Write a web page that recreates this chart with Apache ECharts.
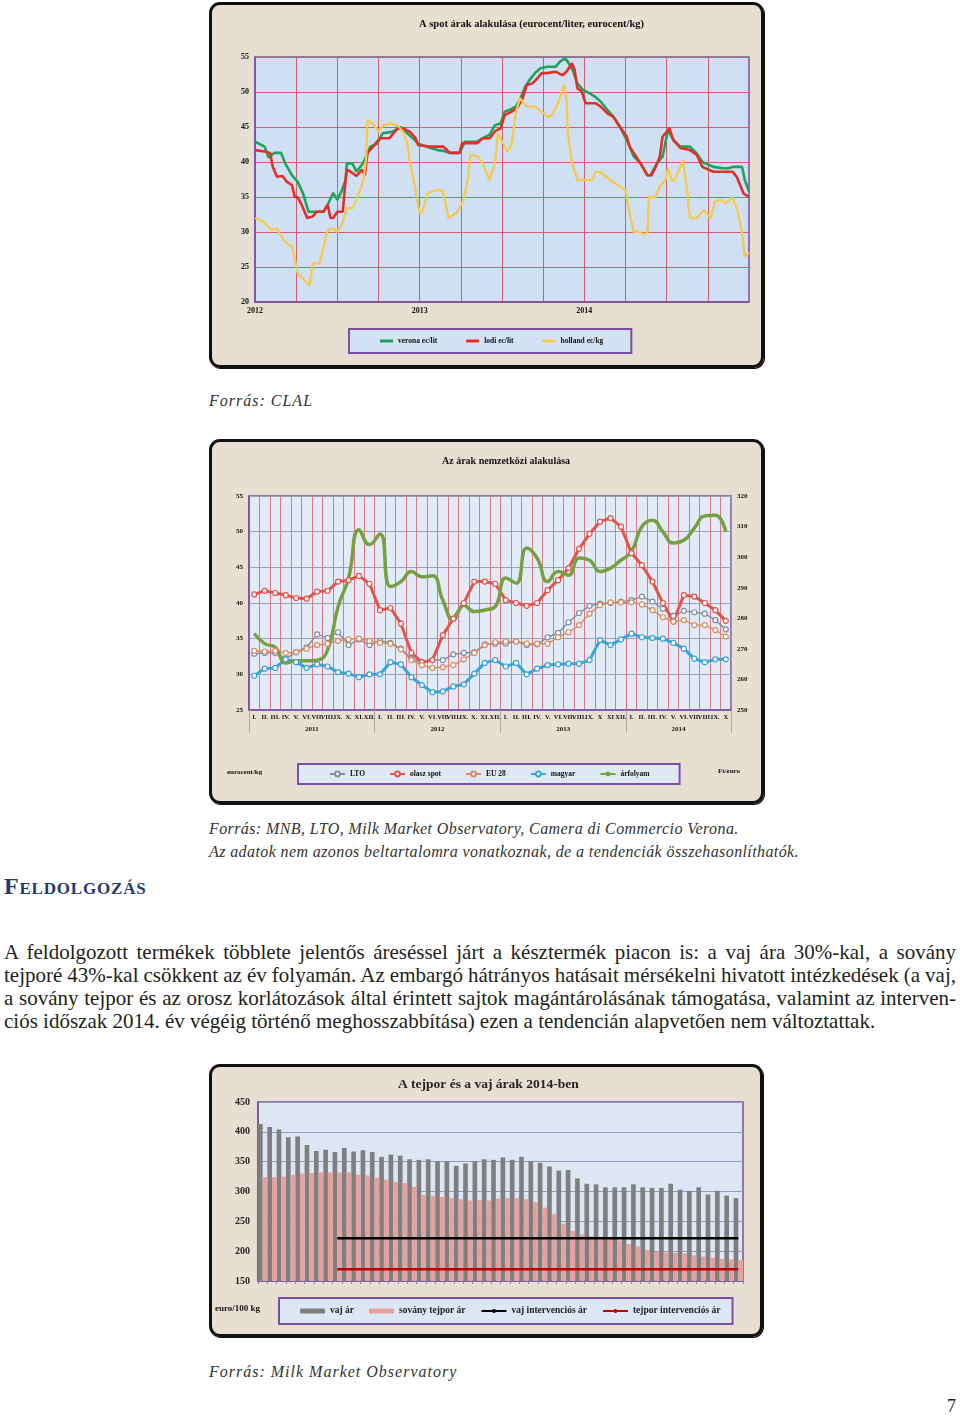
<!DOCTYPE html>
<html><head><meta charset="utf-8">
<script src="https://cdn.jsdelivr.net/npm/echarts@6/dist/echarts.min.js"></script>
<style>
body{margin:0;width:960px;height:1416px;background:#fff;position:relative;overflow:hidden;font-family:"Liberation Serif","DejaVu Serif",serif;color:#231f20}
.box{position:absolute;background:#e7e0d2;border-radius:11px}
.frame{position:absolute;border:3px solid #111;border-radius:11px;box-sizing:border-box;pointer-events:none;box-shadow:1px 1px 0 #111}
.src{position:absolute;left:209px;font-style:italic;font-size:16px;line-height:18px;color:#333;letter-spacing:0.4px;white-space:nowrap}
.head{position:absolute;left:4px;top:871px;font-size:24px;line-height:30px;font-weight:bold;font-variant:small-caps;color:#1f3c6e;letter-spacing:0.8px}
.para{position:absolute;left:4px;top:941px;width:952px;font-size:21px;line-height:23px}
.jl{text-align:justify;text-align-last:justify;word-spacing:-4px}
.pn{position:absolute;left:947px;top:1395px;font-size:18px;line-height:22px}
</style></head>
<body>
<div id="c1" class="box" style="left:209px;top:2px;width:555px;height:366px"></div>
<div class="frame" style="left:209px;top:2px;width:555px;height:366px"></div>
<div class="src" style="top:392px;letter-spacing:1px">Forrás: CLAL</div>

<div id="c2" class="box" style="left:209px;top:439px;width:555px;height:365px"></div>
<div class="frame" style="left:209px;top:439px;width:555px;height:365px"></div>
<div class="src" style="top:820px">Forrás: MNB, LTO, Milk Market Observatory, Camera di Commercio Verona.</div>
<div class="src" style="top:843px">Az adatok nem azonos beltartalomra vonatkoznak, de a tendenciák összehasonlíthatók.</div>
<div class="head">Feldolgozás</div>
<div class="para">
<div class="jl">A feldolgozott termékek többlete jelentős áreséssel járt a késztermék piacon is: a vaj ára 30%-kal, a sovány</div>
<div class="jl">tejporé 43%-kal csökkent az év folyamán. Az embargó hátrányos hatásait mérsékelni hivatott intézkedések (a vaj,</div>
<div class="jl">a sovány tejpor és az orosz korlátozások által érintett sajtok magántárolásának támogatása, valamint az interven-</div>
<div>ciós időszak 2014. év végéig történő meghosszabbítása) ezen a tendencián alapvetően nem változtattak.</div>
</div>

<div id="c3" class="box" style="left:209px;top:1064px;width:554px;height:273px"></div>
<div class="frame" style="left:209px;top:1064px;width:554px;height:273px"></div>
<div class="src" style="top:1363px;letter-spacing:1px">Forrás: Milk Market Observatory</div>
<div class="pn">7</div>

<script>
const SERIF = '"Liberation Serif","DejaVu Serif",serif';
const PURPLE = '#7b4ea3';

// ---------- Chart 1: spot prices (x = months since Jan 2012) ----------
const spotYearLabels = ['2012', '2013', '2014'];
const verona = [[0,42.9],[0.7,42.2],[1.0,40.6],[1.4,41.3],[1.9,41.3],[2.2,39.8],[2.7,38.1],[3.1,37.2],[3.5,35.5],[3.9,32.9],[4.5,32.9],[5.0,32.9],[5.3,33.9],[5.7,35.6],[6.0,34.6],[6.3,35.8],[6.6,37.4],[6.7,39.8],[7.1,39.8],[7.4,38.6],[7.9,39.9],[8.4,42.2],[8.9,42.6],[9.3,44.1],[10.0,44.3],[10.6,45.0],[11.1,44.1],[11.5,43.4],[11.9,42.6],[12.8,42.0],[13.3,41.7],[13.7,41.6],[14.2,41.3],[14.9,41.3],[15.3,42.9],[16.2,42.9],[16.6,43.4],[17.1,43.9],[17.5,45.3],[17.9,45.5],[18.2,47.2],[18.6,47.5],[19.0,47.9],[19.3,48.9],[19.7,50.8],[20.0,51.7],[20.4,52.7],[20.8,53.4],[21.3,53.6],[21.9,53.6],[22.2,54.3],[22.6,54.8],[22.8,54.3],[23.2,52.9],[23.5,51.2],[23.9,50.3],[24.4,49.8],[24.8,49.3],[25.2,48.6],[25.7,47.4],[26.1,46.5],[26.6,45.0],[27.1,43.1],[27.6,40.8],[28.1,39.8],[28.6,38.1],[28.8,38.1],[29.3,39.8],[29.7,40.8],[29.9,42.7],[30.1,44.6],[30.5,43.1],[31.0,42.2],[31.7,42.2],[32.2,41.2],[32.6,40.0],[33.4,39.3],[34.1,39.1],[34.5,39.1],[34.8,39.3],[35.5,39.3],[35.7,37.4],[36,35.8]];
const lodi = [[0,41.7],[0.7,41.5],[1.1,41.3],[1.3,39.3],[1.6,37.9],[2.0,38.0],[2.3,37.2],[2.7,36.7],[2.9,35.0],[3.1,35.0],[3.4,33.9],[3.8,32.0],[4.2,32.2],[4.5,32.9],[5.0,32.9],[5.3,33.9],[5.5,32.0],[5.7,32.0],[6.0,32.9],[6.4,32.9],[6.6,37.4],[6.7,38.9],[6.9,38.7],[7.4,38.0],[7.8,38.9],[8.0,38.1],[8.2,41.3],[8.6,42.2],[9.1,43.4],[9.8,43.4],[10.4,44.8],[10.8,44.8],[11.3,44.3],[11.7,43.4],[11.9,42.4],[12.8,42.2],[13.7,42.2],[14.0,41.7],[14.2,41.3],[14.9,41.3],[15.1,42.7],[16.2,42.7],[16.6,43.4],[17.1,43.4],[17.5,44.4],[17.9,44.8],[18.2,46.7],[18.7,47.2],[19.1,47.7],[19.5,49.1],[19.8,51.0],[20.2,51.2],[20.6,52.0],[20.9,52.7],[21.3,52.7],[21.9,52.9],[22.4,52.4],[22.7,52.9],[23.1,54.1],[23.3,53.1],[23.5,50.5],[23.8,50.1],[24.1,48.4],[24.8,48.4],[25.2,47.9],[25.7,46.9],[26.1,46.5],[26.6,45.0],[27.1,43.6],[27.3,42.2],[27.6,41.3],[28.1,39.8],[28.6,38.1],[28.9,38.1],[29.2,39.3],[29.5,40.8],[29.7,43.6],[30.2,44.8],[30.5,43.1],[31.0,42.0],[31.7,41.7],[32.2,41.0],[32.6,39.3],[33.4,38.6],[34.1,38.6],[34.8,38.6],[35.1,37.9],[35.4,36.5],[35.6,35.5],[36,35.0]];
const holland = [[0,32.0],[0.6,31.5],[1.2,30.3],[1.6,30.5],[2.0,29.1],[2.3,28.4],[2.7,27.9],[2.9,26.2],[3.1,24.1],[3.6,23.1],[4.0,22.4],[4.2,25.5],[4.7,25.5],[5.0,27.9],[5.3,30.3],[5.7,30.5],[6.0,30.0],[6.4,31.5],[6.7,33.4],[7.1,33.4],[7.4,34.6],[7.9,37.4],[8.1,40.5],[8.2,46.0],[8.6,45.5],[9.0,44.3],[9.3,45.2],[9.8,45.5],[10.4,45.2],[10.8,44.3],[11.1,42.6],[11.3,39.8],[11.7,36.0],[11.8,34.6],[12.0,32.7],[12.2,32.9],[12.6,35.6],[13.3,36.0],[13.7,35.8],[14.1,32.0],[14.7,32.7],[15.2,34.6],[15.5,37.4],[15.7,41.0],[16.2,40.8],[16.6,39.8],[17.1,37.4],[17.5,40.0],[17.7,44.1],[18.1,42.6],[18.4,41.5],[18.7,42.5],[19.0,47.0],[19.3,49.1],[19.8,47.9],[20.4,47.9],[20.9,47.2],[21.3,46.5],[21.6,46.6],[22.1,48.4],[22.5,51.0],[22.7,48.9],[22.8,44.1],[23.1,39.8],[23.5,37.4],[24.2,37.4],[24.6,37.4],[24.8,38.6],[25.2,38.6],[25.5,38.0],[25.9,37.4],[26.6,36.5],[27.0,36.0],[27.2,33.6],[27.6,30.0],[28.1,30.0],[28.3,29.6],[28.6,29.9],[28.7,35.0],[29.2,35.0],[29.5,36.5],[29.9,37.4],[30.1,39.1],[30.4,37.3],[30.6,37.5],[31.0,39.3],[31.2,40.3],[31.3,38.6],[31.5,36.0],[31.6,33.6],[31.7,32.0],[32.2,32.0],[32.7,33.1],[33.2,32.0],[33.5,34.3],[33.9,34.6],[34.3,34.1],[34.6,34.6],[34.8,35.0],[35.2,32.7],[35.5,29.8],[35.7,26.5],[36,27.0]];

// ---------- Chart 2: international prices (monthly, 2011-01 .. 2014-10) ----------
const monthLabels = ['I.','II.','III.','IV.','V.','VI.','VII.','VIII.','IX.','X.','XI.','XII.',
  'I.','II.','III.','IV.','V.','VI.','VII.','VIII.','IX.','X.','XI.','XII.',
  'I.','II.','III.','IV.','V.','VI.','VII.','VIII.','IX.','X','XI','XII.',
  'I.','II.','III.','IV.','V.','VI.','VII.','VIII.','IX.','X'];
const years = ['2011','2012','2013','2014'];
const monthsPerYear = [12,12,12,10];
const lto = [32.9,33.0,33.0,32.2,33.1,33.8,35.6,35.1,35.9,34.1,34.9,34.1,34.7,34.4,33.6,32.2,31.7,32.0,32.0,32.8,33.0,33.1,34.2,34.3,34.3,34.6,34.1,34.2,35.2,35.8,37.3,38.6,39.6,39.9,40.0,40.2,40.4,40.9,40.2,39.2,38.2,38.9,38.7,38.5,37.6,36.3];
const olasz = [41.2,41.7,41.4,41.1,40.7,40.6,41.6,41.7,43.0,43.2,43.8,42.7,39.0,39.3,37.1,33.0,31.7,32.0,35.5,37.8,40.0,43.0,43.0,42.7,40.4,40.0,39.6,40.0,41.8,43.2,44.9,47.6,49.7,51.4,51.9,50.7,47.0,45.3,43.0,40.0,37.4,41.1,40.9,40.0,39.0,37.5];
const eu28 = [33.3,33.2,33.3,33.0,33.1,33.6,34.1,34.3,34.7,34.9,35.0,34.7,34.4,34.3,33.5,32.0,31.3,30.9,31.0,31.3,32.1,33.0,34.1,34.5,34.6,34.6,34.3,34.3,34.3,35.2,35.9,36.9,38.5,39.7,40.1,40.1,40.1,39.8,39.0,38.0,37.4,37.6,36.9,36.9,36.2,35.3];
const magyar = [29.8,30.8,30.9,32.1,31.7,30.9,31.4,31.1,30.3,30.1,29.6,30.0,30.0,31.7,31.4,29.6,28.5,27.5,27.6,28.3,28.6,30.1,31.6,32.0,31.1,31.6,30.0,30.8,31.3,31.4,31.5,31.5,32.0,34.8,34.1,34.9,35.7,35.2,35.1,35.0,34.4,33.6,32.2,31.7,32.1,32.1];
const arfolyam = [275.0,271.7,270.5,265.4,266.1,266.1,266.3,269.6,283.8,293.2,309.0,304.1,307.6,290.4,292.0,295.3,293.6,293.9,285.9,279.4,284.3,282.2,282.7,283.8,293.2,291.5,303.0,299.7,292.0,295.3,294.1,299.7,299.0,295.3,296.4,299.0,301.8,310.0,312.1,308.3,304.6,305.5,309.5,313.5,313.7,308.3];

// ---------- Chart 3: butter and SMP prices 2014 (weekly) ----------
const weeks = Array.from({length:52}, (_, i) => String(i + 1));
const vajAr = [413,408,404,391,392,378,368,370,366,373,367,369,366,358,362,360,354,353,354,351,351,343,347,351,354,353,357,353,358,351,348,342,335,336,322,313,312,307,307,307,312,307,306,306,313,303,301,307,295,301,293,289];
const tejporAr = [324,324,325,328,330,331,332,332,332,332,328,327,323,320,316,314,308,294,293,291,289,287,285,286,285,288,289,289,287,282,273,262,246,234,228,225,223,222,218,212,208,202,199,198,197,196,193,191,189,187,186,185];
const vajIntervencio = 221.75;
const tejporIntervencio = 169.8;
const intervencioKezdet = 8; // first week index shown

// ---------- build ----------
const lbl = (sz) => ({fontFamily: SERIF, fontWeight: 'bold', fontSize: sz, color: '#111'});

const c1 = echarts.init(document.getElementById('c1'), null, {renderer: 'canvas'});
c1.setOption({
  animation: false,
  title: {text: 'A spot árak alakulása (eurocent/liter, eurocent/kg)', left: 205, top: 12, textStyle: lbl(10.5)},
  grid: {left: 46, top: 55, width: 494, height: 245, show: true, backgroundColor: '#cfe0f4', borderColor: PURPLE, borderWidth: 1.5},
  xAxis: {type: 'value', min: 0, max: 36, interval: 3,
    axisLine: {show: true, lineStyle: {color: PURPLE, width: 1.5}}, axisTick: {show: false},
    splitLine: {show: true, lineStyle: {color: '#d65b6b', width: 1}},
    axisLabel: {margin: 5, ...lbl(8), formatter: v => (v % 12 === 0 && v / 12 < spotYearLabels.length) ? spotYearLabels[v / 12] : ''}},
  yAxis: {type: 'value', min: 20, max: 55, interval: 5,
    axisLine: {show: true, lineStyle: {color: PURPLE, width: 1.5}}, axisTick: {show: false},
    splitLine: {show: true, lineStyle: {color: '#d65b6b', width: 1}},
    axisLabel: {margin: 6, ...lbl(8)}},
  legend: {left: 140, top: 327, padding: [8, 28, 8, 31], itemGap: 29, itemWidth: 13, itemHeight: 3, icon: 'rect',
    backgroundColor: '#d3e2f5', borderColor: PURPLE, borderWidth: 2, textStyle: lbl(7.5),
    data: ['verona ec/lit', 'lodi ec/lit', 'holland ec/kg']},
  series: [
    {name: 'verona ec/lit', type: 'line', data: verona, symbol: 'none', color: '#1ea35a', lineStyle: {width: 2.6}},
    {name: 'lodi ec/lit', type: 'line', data: lodi, symbol: 'none', color: '#e42f28', lineStyle: {width: 2.6}},
    {name: 'holland ec/kg', type: 'line', data: holland, symbol: 'none', color: '#f5c94e', lineStyle: {width: 2.3}}
  ]
});

const yearSlots = [];
years.forEach((y, yi) => {
  for (let h = 0; h < monthsPerYear[yi] * 2; h++) yearSlots.push(h === monthsPerYear[yi] ? y : '');
});
yearSlots.push('');
const yearBounds = [0];
{ let acc = 0; monthsPerYear.forEach(m => { acc += m * 2; yearBounds.push(acc); }); }

const lineMk = (c, w) => ({color: c, symbol: 'circle', symbolSize: 5,
  lineStyle: {color: c, width: w}, itemStyle: {color: '#fff', borderColor: c, borderWidth: 1.2}});
const c2 = echarts.init(document.getElementById('c2'), null, {renderer: 'canvas'});
c2.setOption({
  animation: false,
  title: {text: 'Az árak nemzetközi alakulása', left: 228, top: 12, textStyle: lbl(10)},
  grid: {left: 40, top: 57, width: 482, height: 214, show: true, backgroundColor: '#e3ebf6', borderColor: PURPLE, borderWidth: 1.5},
  xAxis: [
    {type: 'category', data: monthLabels, boundaryGap: true,
      axisLine: {show: true, lineStyle: {color: PURPLE, width: 1.5}}, axisTick: {show: false},
      splitLine: {show: true, interval: 0, lineStyle: {color: '#e07585', width: 1}},
      axisLabel: {interval: 0, margin: 4, ...lbl(6.5)}},
    {type: 'category', data: yearSlots, boundaryGap: false, position: 'bottom',
      axisLine: {show: false},
      axisTick: {show: true, length: 23, interval: (i) => yearBounds.includes(i), lineStyle: {color: '#aaa'}},
      axisLabel: {interval: (i) => yearSlots[i] !== '', margin: 16, ...lbl(7)},
      splitLine: {show: false}}
  ],
  yAxis: [
    {type: 'value', min: 25, max: 55, interval: 5,
      axisLine: {show: true, lineStyle: {color: PURPLE, width: 1.5}}, axisTick: {show: false},
      splitLine: {show: true, lineStyle: {color: '#9aa3bd', width: 1}}, axisLabel: {margin: 6, ...lbl(7)}},
    {type: 'value', min: 250, max: 320, interval: 10, position: 'right',
      axisLine: {show: false}, axisTick: {show: false}, splitLine: {show: false}, axisLabel: {margin: 6, ...lbl(7)}}
  ],
  legend: {left: 89, top: 325, padding: [6, 30, 6, 31], itemGap: 24, itemWidth: 15, itemHeight: 6,
    backgroundColor: '#dfe9f6', borderColor: PURPLE, borderWidth: 2, textStyle: lbl(7.5),
    data: ['LTO', 'olasz spot', 'EU 28', 'magyar', 'árfolyam']},
  graphic: [
    {type: 'text', left: 18, top: 330, style: {text: 'eurocent/kg', font: 'bold 7px ' + SERIF, fill: '#111'}},
    {type: 'text', left: 509, top: 329, style: {text: 'Ft/euro', font: 'bold 7px ' + SERIF, fill: '#111'}}
  ],
  series: [
    {name: 'LTO', type: 'line', data: lto, ...lineMk('#7f8ea3', 1.4)},
    {name: 'olasz spot', type: 'line', data: olasz, ...lineMk('#e5534b', 3)},
    {name: 'EU 28', type: 'line', data: eu28, ...lineMk('#d98b5f', 1.4)},
    {name: 'magyar', type: 'line', data: magyar, ...lineMk('#3ca3d6', 3)},
    {name: 'árfolyam', type: 'line', data: arfolyam, yAxisIndex: 1, smooth: true, symbol: 'none', color: '#77a043', lineStyle: {width: 3.5}}
  ]
});

const vajLine = weeks.map((w, i) => i >= intervencioKezdet ? vajIntervencio : null);
const tejporLine = weeks.map((w, i) => i >= intervencioKezdet ? tejporIntervencio : null);
const c3 = echarts.init(document.getElementById('c3'), null, {renderer: 'canvas'});
c3.setOption({
  animation: false,
  title: {text: 'A tejpor és a vaj árak 2014-ben', left: 184, top: 9, textStyle: {...lbl(13.5), color: '#222'}},
  grid: {left: 49, top: 38, width: 485, height: 179, show: true, backgroundColor: '#dde6f3', borderColor: PURPLE, borderWidth: 1.5},
  xAxis: {type: 'category', data: weeks, axisLabel: {show: false},
    axisLine: {show: true, lineStyle: {color: PURPLE, width: 1.5}},
    axisTick: {show: true, length: 3, interval: 0, lineStyle: {color: '#8a7fae'}}},
  yAxis: {type: 'value', min: 150, max: 450, interval: 50,
    axisLine: {show: true, lineStyle: {color: PURPLE, width: 1.5}}, axisTick: {show: false},
    splitLine: {show: true, lineStyle: {color: '#8c9bbb', width: 1}}, axisLabel: {margin: 8, ...lbl(10), color: '#222'}},
  legend: {left: 70, top: 234, padding: [8, 12, 8, 21], itemGap: 15, itemWidth: 25, itemHeight: 5,
    backgroundColor: '#dde6f3', borderColor: PURPLE, borderWidth: 2, textStyle: {...lbl(9.5), color: '#222'},
    data: ['vaj ár', 'sovány tejpor ár', 'vaj intervenciós ár', 'tejpor intervenciós ár']},
  graphic: [
    {type: 'text', left: 6, top: 240, style: {text: 'euro/100 kg', font: 'bold 9px ' + SERIF, fill: '#111'}}
  ],
  series: [
    {name: 'vaj ár', type: 'bar', data: vajAr, color: '#7f7f7f', barGap: '0%', barCategoryGap: '0%'},
    {name: 'sovány tejpor ár', type: 'bar', data: tejporAr, color: '#e6a09f'},
    {name: 'vaj intervenciós ár', type: 'line', data: vajLine, symbol: 'none', color: '#000', lineStyle: {width: 2.5}, z: 5},
    {name: 'tejpor intervenciós ár', type: 'line', data: tejporLine, symbol: 'none', color: '#c00000', lineStyle: {width: 2.5}, z: 5}
  ]
});
</script>
</body></html>
